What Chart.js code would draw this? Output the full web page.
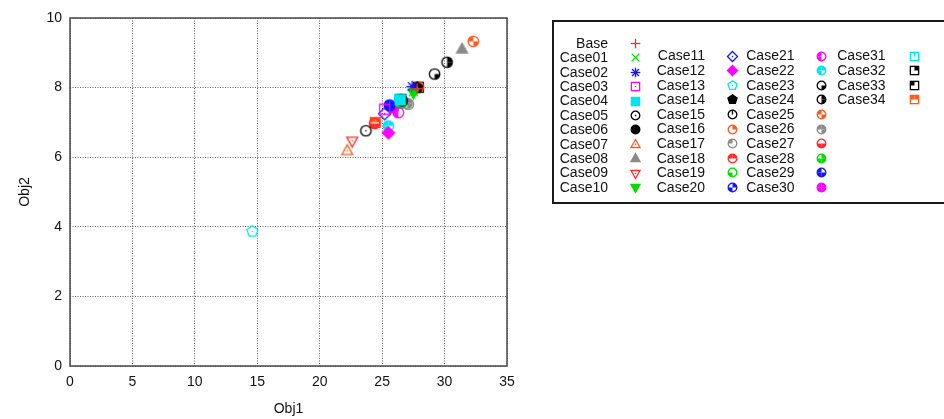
<!DOCTYPE html>
<html>
<head>
<meta charset="utf-8">
<script src="https://cdn.jsdelivr.net/npm/chart.js@4.4.1/dist/chart.umd.min.js"></script>
<style>
  html, body { margin: 0; padding: 0; background: #ffffff; overflow: hidden; }
  #wrap { position: relative; width: 944px; height: 419px; }
</style>
</head>
<body>
<div id="wrap"><canvas id="c" width="944" height="419"></canvas></div>
<script>
// Case names and their two objective values
const caseNames = ['Base','Case01','Case02','Case03','Case04','Case05','Case06','Case07','Case08','Case09',
  'Case10','Case11','Case12','Case13','Case14','Case15','Case16','Case17','Case18','Case19',
  'Case20','Case21','Case22','Case23','Case24','Case25','Case26','Case27','Case28','Case29',
  'Case30','Case31','Case32','Case33','Case34'];
const obj1Values = [27.8, 27.5, 27.4, 25.2, 26.45, 23.7, 26.5, 22.2, 31.4, 22.6,
  27.5, 25.2, 25.5, 14.6, 27.8, 26.6, 27.9, 27.1, 27.85, 26.6,
  25.6, 26.3, 25.5, 29.2, 30.2, 32.3, 27.0, 24.4, 26.5, 25.6,
  25.9, 26.4, 26.5, 27.9, 24.45];
const obj2Values = [7.97, 7.88, 8.03, 7.38, 7.65, 6.76, 7.66, 6.18, 9.10, 6.47,
  7.85, 7.25, 6.70, 3.87, 8.00, 7.62, 8.02, 7.52, 8.00, 7.58,
  7.48, 7.28, 6.90, 8.39, 8.73, 9.33, 7.55, 6.97, 7.55, 7.50,
  7.42, 7.65, 7.66, 8.01, 7.00];
const xTickValues = [0, 5, 10, 15, 20, 25, 30, 35];
const yTickValues = [0, 2, 4, 6, 8, 10];

// Marker styles: colour cycle and symbol per case
const palette = ['#ff2a2a', '#00dd00', '#1414ff', '#ff00ff', '#00e6f0', '#000000', '#000000', '#ff5a1e', '#8a8a8a'];
const markerKinds = ['plus','cross','star','box','boxF','circ','circF','tri','triF','itri','itriF','dia','diaF','pent','pentF',
  'C0','C1','C2','C3','C4','C5','C6','C7','C8','C9','C10','C11','C12','C13','C14','C15',
  'S0','S1','S2','S3'];

function drawMarker(ctx, kind, color, r) {
  ctx.strokeStyle = color;
  ctx.fillStyle = color;
  ctx.lineWidth = 1.3;
  ctx.lineJoin = 'miter';
  const line = (x1, y1, x2, y2) => { ctx.beginPath(); ctx.moveTo(x1, y1); ctx.lineTo(x2, y2); ctx.stroke(); };
  const dot = () => { ctx.fillRect(-0.7, -0.7, 1.4, 1.4); };
  const poly = (pts, fill) => {
    ctx.beginPath();
    pts.forEach((p, i) => i ? ctx.lineTo(p[0], p[1]) : ctx.moveTo(p[0], p[1]));
    ctx.closePath();
    if (fill) { ctx.fill(); ctx.stroke(); } else { ctx.stroke(); dot(); }
  };
  const h = r * 0.86;
  if (kind === 'plus') { line(-r, 0, r, 0); line(0, -r, 0, r); return; }
  if (kind === 'cross') { const d = r * 0.8; line(-d, -d, d, d); line(-d, d, d, -d); return; }
  if (kind === 'star') { const d = r * 0.72; line(-r, 0, r, 0); line(0, -r, 0, r); line(-d, -d, d, d); line(-d, d, d, -d); return; }
  if (kind === 'box' || kind === 'boxF') { poly([[-h,-h],[h,-h],[h,h],[-h,h]], kind === 'boxF'); return; }
  if (kind === 'circ' || kind === 'circF') {
    ctx.beginPath(); ctx.arc(0, 0, r * 0.9, 0, Math.PI * 2);
    if (kind === 'circF') { ctx.fill(); ctx.stroke(); } else { ctx.stroke(); dot(); }
    return;
  }
  if (kind === 'tri' || kind === 'triF') { const t = r * 1.05; poly([[0,-t],[t*0.9,t*0.6],[-t*0.9,t*0.6]], kind === 'triF'); return; }
  if (kind === 'itri' || kind === 'itriF') { const t = r * 1.05; poly([[0,t],[t*0.9,-t*0.6],[-t*0.9,-t*0.6]], kind === 'itriF'); return; }
  if (kind === 'dia' || kind === 'diaF') { const t = r * 1.05; poly([[0,-t],[t,0],[0,t],[-t,0]], kind === 'diaF'); return; }
  if (kind === 'pent' || kind === 'pentF') {
    const pts = [];
    for (let k = 0; k < 5; k++) { const a = -Math.PI / 2 + k * 2 * Math.PI / 5; pts.push([Math.cos(a) * r, Math.sin(a) * r]); }
    poly(pts, kind === 'pentF'); return;
  }
  if (kind[0] === 'C') {
    const mask = parseInt(kind.slice(1), 10);
    const rr = r * 0.9;
    // quadrants: 1 top-right, 2 top-left, 4 bottom-left, 8 bottom-right
    const quads = [[1, -Math.PI / 2, 0], [2, -Math.PI, -Math.PI / 2], [4, Math.PI / 2, Math.PI], [8, 0, Math.PI / 2]];
    quads.forEach(([bit, a0, a1]) => {
      if (mask & bit) { ctx.beginPath(); ctx.moveTo(0, 0); ctx.arc(0, 0, rr, a0, a1); ctx.closePath(); ctx.fill(); }
    });
    ctx.beginPath(); ctx.arc(0, 0, rr, 0, Math.PI * 2); ctx.stroke();
    if (mask === 0) line(0, 0, 0, -rr);
    return;
  }
  if (kind[0] === 'S') {
    const mask = parseInt(kind.slice(1), 10);
    const quads = [[1, 0, -h], [2, -h, -h], [4, -h, 0], [8, 0, 0]];
    quads.forEach(([bit, qx, qy]) => { if (mask & bit) ctx.fillRect(qx, qy, h, h); });
    ctx.strokeRect(-h, -h, 2 * h, 2 * h);
    if (mask === 0) line(0, 0, 0, -h);
  }
}

function makeMarkerImage(kind, color, r) {
  const size = Math.ceil(2 * r + 5);
  const cv = document.createElement('canvas');
  cv.width = size; cv.height = size;
  const cx = cv.getContext('2d');
  cx.translate(size / 2, size / 2);
  drawMarker(cx, kind, color, r);
  return cv;
}

const plotMarkers = caseNames.map((n, i) => makeMarkerImage(markerKinds[i], palette[i % palette.length], 5.8));
const keyMarkers = caseNames.map((n, i) => makeMarkerImage(markerKinds[i], palette[i % palette.length], 4.8));

const datasets = caseNames.map((name, i) => ({
  label: name,
  data: [{ x: obj1Values[i], y: obj2Values[i] }],
  pointStyle: plotMarkers[i],
  pointRadius: 6,
  showLine: false
}));

const FONT = '"Liberation Sans", Arial, Helvetica, sans-serif';

// Plot frame drawn on all four sides
const framePlugin = {
  id: 'frame',
  beforeDatasetsDraw(chart) {
    const { ctx, chartArea: a } = chart;
    ctx.save();
    ctx.strokeStyle = '#4a4a4a';
    ctx.lineWidth = 1.5;
    ctx.strokeRect(a.left, a.top, a.right - a.left, a.bottom - a.top);
    ctx.restore();
  }
};

// Multi-column key in a box to the right of the plot
const keyPlugin = {
  id: 'caseKey',
  afterDraw(chart) {
    const ctx = chart.ctx;
    ctx.save();
    ctx.strokeStyle = '#1a1a1a';
    ctx.lineWidth = 2;
    ctx.strokeRect(553, 21, 420, 182);
    ctx.font = '14px ' + FONT;
    ctx.fillStyle = '#111';
    ctx.textAlign = 'right';
    ctx.textBaseline = 'middle';
    const columns = [
      { start: 0, count: 11, textRight: 608, symX: 635.5, y0: 43.5, dy: 14.4 },
      { start: 11, count: 10, textRight: 705, symX: 732.5, y0: 56, dy: 14.6 },
      { start: 21, count: 10, textRight: 794.5, symX: 821.5, y0: 56, dy: 14.6 },
      { start: 31, count: 4, textRight: 885.5, symX: 914, y0: 56, dy: 14.6 }
    ];
    columns.forEach(col => {
      for (let k = 0; k < col.count; k++) {
        const i = col.start + k;
        const y = col.y0 + k * col.dy;
        ctx.fillText(caseNames[i], col.textRight, y + 0.5);
        const img = keyMarkers[i];
        ctx.drawImage(img, Math.round(col.symX - img.width / 2), Math.round(y - img.height / 2));
      }
    });
    ctx.restore();
  }
};

// dotted grid lines (border.dash applies to the grid in Chart.js v4)
const gridStyle = { color: '#666666', lineWidth: 1, drawTicks: false };
const borderStyle = { display: false, dash: [1, 1.5] };

new Chart(document.getElementById('c'), {
  type: 'scatter',
  data: { datasets },
  options: {
    responsive: false,
    animation: false,
    events: [],
    layout: { padding: { left: 0, top: 18, right: 437, bottom: 0 } },
    plugins: { legend: { display: false }, tooltip: { enabled: false } },
    scales: {
      x: {
        type: 'linear',
        min: xTickValues[0],
        max: xTickValues[xTickValues.length - 1],
        afterBuildTicks: s => { s.ticks = xTickValues.map(v => ({ value: v })); },
        afterFit: s => { s.height = 53; },
        grid: gridStyle,
        border: borderStyle,
        ticks: { color: '#111', font: { family: FONT, size: 14 }, padding: 8, maxRotation: 0 },
        title: { display: true, text: 'Obj1', color: '#111', font: { family: FONT, size: 14 }, padding: { top: 0, bottom: 1 } }
      },
      y: {
        type: 'linear',
        min: yTickValues[0],
        max: yTickValues[yTickValues.length - 1],
        afterBuildTicks: s => { s.ticks = yTickValues.map(v => ({ value: v })); },
        afterFit: s => { s.width = 70; },
        grid: gridStyle,
        border: borderStyle,
        ticks: { color: '#111', font: { family: FONT, size: 14 }, padding: 8 },
        title: { display: true, text: 'Obj2', color: '#111', font: { family: FONT, size: 14 }, padding: { top: 17, bottom: 0 } }
      }
    }
  },
  plugins: [framePlugin, keyPlugin]
});
</script>
</body>
</html>
